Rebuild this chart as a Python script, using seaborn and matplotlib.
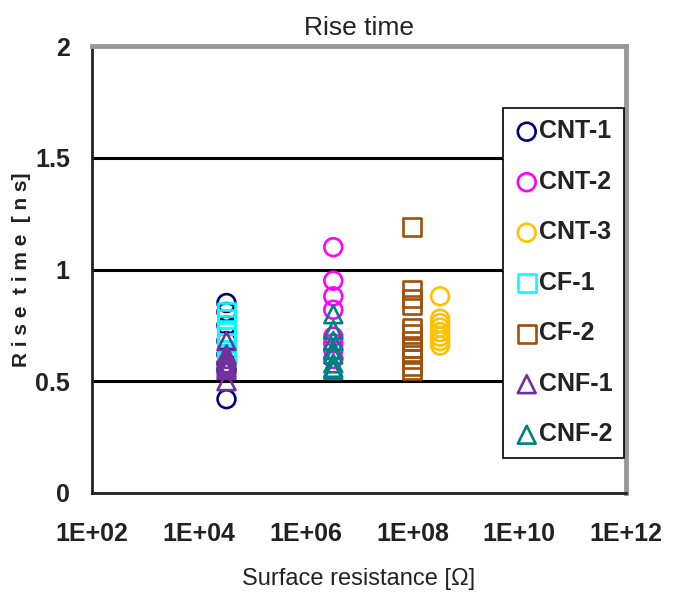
import numpy as np
import pandas as pd
import matplotlib
matplotlib.use("Agg")
import matplotlib.pyplot as plt
import seaborn as sns

# ---- data ----
series_names = ["CNT-1", "CNT-2", "CNT-3", "CF-1", "CF-2", "CNF-1", "CNF-2"]
series_x = [3.3e4, 3.3e6, 3.3e8, 3.3e4, 1e8, 3.3e4, 3.3e6]
cnt1 = [0.85, 0.81, 0.75, 0.68, 0.62, 0.58, 0.55, 0.42]
cnt2 = [1.10, 0.95, 0.88, 0.82, 0.70, 0.67, 0.64, 0.60]
cnt3 = [0.88, 0.78, 0.76, 0.74, 0.72, 0.70, 0.68, 0.66]
cf1 = [0.81, 0.78, 0.75, 0.72, 0.70, 0.67, 0.64, 0.62]
cf2 = [1.19, 0.91, 0.87, 0.84, 0.74, 0.71, 0.68, 0.65, 0.62, 0.60, 0.57, 0.55]
cnf1 = [0.68, 0.62, 0.60, 0.58, 0.57, 0.56, 0.55, 0.50]
cnf2 = [0.80, 0.73, 0.68, 0.64, 0.62, 0.58, 0.56, 0.55]
series_y = [cnt1, cnt2, cnt3, cf1, cf2, cnf1, cnf2]
x_ticks = [1e2, 1e4, 1e6, 1e8, 1e10, 1e12]
x_tick_labels = ["1E+02", "1E+04", "1E+06", "1E+08", "1E+10", "1E+12"]
y_ticks = [0, 0.5, 1, 1.5, 2]
y_tick_labels = ["0", "0.5", "1", "1.5", "2"]

colors = ["#000080", "#FF00FF", "#FFC000", "#00FFFF", "#A0500A", "#7030A0", "#008080"]
markers = ["o", "o", "o", "s", "s", "^", "^"]

rows = []
for name, xv, ys in zip(series_names, series_x, series_y):
    for y in ys:
        rows.append({"series": name, "R": xv, "t": y})
df = pd.DataFrame(rows)

sns.set_style("white")
FONT = ["Liberation Sans", "DejaVu Sans"]
plt.rcParams["font.family"] = FONT

fig = plt.figure(figsize=(6.76, 6.03), dpi=100)
ax = fig.add_axes([92 / 676, 110 / 603, (626 - 92) / 676, (493 - 46) / 603])

for name, col, mk in zip(series_names, colors, markers):
    sub = df[df["series"] == name]
    sns.scatterplot(data=sub, x="R", y="t", ax=ax, marker=mk, s=165,
                    facecolor="none", edgecolor=col, linewidth=1.9, label=name,
                    zorder=3)

ax.set_xscale("log")
ax.set_xlim(1e2, 1e12)
ax.set_ylim(0, 2)
ax.set_xticks(x_ticks)
ax.set_xticklabels(x_tick_labels)
ax.set_yticks(y_ticks)
ax.set_yticklabels(y_tick_labels)
ax.minorticks_off()
ax.tick_params(axis="both", direction="in", length=5, width=1.5, labelsize=18,
               colors="#222222")
ax.tick_params(axis="x", pad=21)
ax.tick_params(axis="y", pad=16)
for lab in ax.get_xticklabels() + ax.get_yticklabels():
    lab.set_fontweight("bold")

for yv in [0.5, 1.0, 1.5]:
    ax.axhline(yv, color="black", linewidth=2.2, zorder=1)

ax.spines["left"].set_color("#222222")
ax.spines["left"].set_linewidth(2)
ax.spines["bottom"].set_color("#222222")
ax.spines["bottom"].set_linewidth(2)
ax.spines["top"].set_color("#999999")
ax.spines["top"].set_linewidth(3.5)
ax.spines["right"].set_color("#999999")
ax.spines["right"].set_linewidth(3.5)

ax.set_title("Rise time", fontsize=19, pad=8, color="#222222")
ax.set_xlabel("Surface resistance [Ω]", fontsize=17, color="#222222")
ax.set_ylabel("R i s e  t i m e  [ n s]", fontsize=15, fontweight="bold",
              color="#222222")
ax.yaxis.set_label_coords((31 - 92) / 534, 0.5)
ax.xaxis.set_label_coords(0.5, -(568 - 493) / 447)

leg = ax.legend(loc="upper left", bbox_to_anchor=((503 - 92) / 534, (493 - 108) / 447),
                frameon=True, fancybox=False, edgecolor="black", framealpha=1,
                fontsize=18, labelspacing=1.06, handletextpad=0.0,
                handlelength=1.0, borderpad=0.45, borderaxespad=0)
leg.get_frame().set_linewidth(1.2)
for t in leg.get_texts():
    t.set_fontweight("bold")
    t.set_color("#222222")

fig.savefig("out.png", dpi=100)
